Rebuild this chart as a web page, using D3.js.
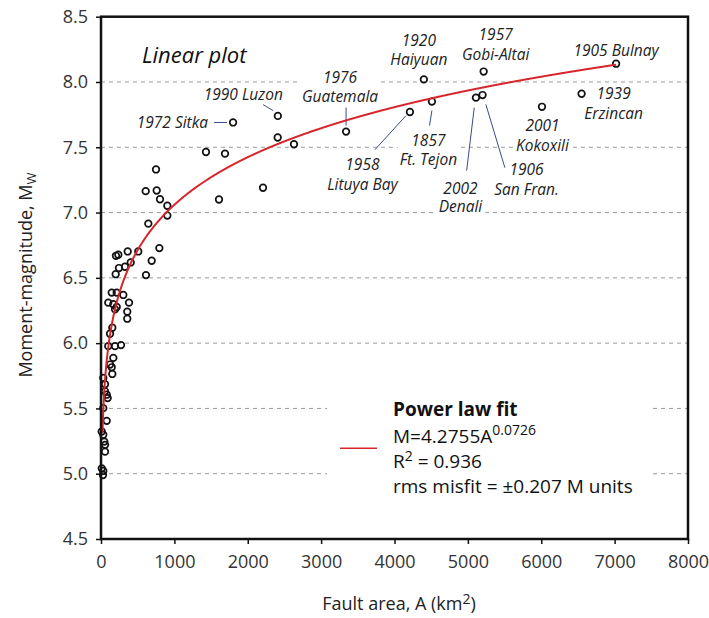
<!DOCTYPE html>
<html>
<head>
<meta charset="utf-8">
<script src="https://cdn.jsdelivr.net/npm/d3@7"></script>
<style>
  body { margin: 0; background: #fff; }
  svg { display: block; font-family: "Open Sans", sans-serif; }
</style>
</head>
<body>
<div id="chart"></div>
<script>
// axis ticks
const magTicks = [4.5, 5.0, 5.5, 6.0, 6.5, 7.0, 7.5, 8.0, 8.5];
const areaTicks = [0, 1000, 2000, 3000, 4000, 5000, 6000, 7000, 8000];
const gridMags = [5.0, 5.5, 6.0, 6.5, 7.0, 7.5, 8.0];

// named earthquakes
const eventYears = ["1972", "1990", "1976", "1958", "1920", "1857", "1957", "2002", "1906", "2001", "1939", "1905"];
const eventPlaces = ["Sitka", "Luzon", "Guatemala", "Lituya Bay", "Haiyuan", "Ft. Tejon", "Gobi-Altai", "Denali", "San Fran.", "Kokoxili", "Erzincan", "Bulnay"];
const eventArea = [1800, 2410, 3340, 4210, 4400, 4510, 5215, 5110, 5200, 6010, 6550, 7020];
const eventMw = [7.69, 7.74, 7.62, 7.77, 8.02, 7.85, 8.08, 7.88, 7.90, 7.81, 7.91, 8.14];

// the rest of the events
const otherArea = [2408, 2630, 1431, 1690, 2208, 1608, 750, 609, 759, 804, 904, 904, 645, 795, 691, 613,
  508, 364, 204, 236, 405, 327, 245, 200, 146, 214, 304, 99, 168, 191, 214, 382, 358, 358, 154, 123,
  99, 191, 273, 168, 123, 146, 154, 31, 55, 55, 78, 91, 31, 78, 10, 31, 45, 55, 55, 10, 31, 27];
const otherMw = [7.575, 7.523, 7.464, 7.451, 7.19, 7.10, 7.33, 7.164, 7.169, 7.102, 7.052, 6.977, 6.915, 6.728, 6.631, 6.521,
  6.702, 6.702, 6.669, 6.677, 6.618, 6.585, 6.575, 6.528, 6.387, 6.387, 6.369, 6.310, 6.298, 6.259, 6.277, 6.310, 6.241, 6.187, 6.118, 6.072,
  5.977, 5.977, 5.985, 5.887, 5.836, 5.815, 5.764, 5.733, 5.685, 5.631, 5.605, 5.579, 5.502, 5.405, 5.323, 5.298, 5.246, 5.221, 5.169, 5.041, 5.021, 4.990];

// power law fit, M = a * A^b
const fitCoef = 4.2755;
const fitExp = 0.0726;
const fitR2 = "0.936";
const fitRms = "0.207";
const fitRange = [20, 7020];

// where each event label sits relative to its point (px)
const labelLayout = [
  { dx: -25, dy: [6], anchor: "end", oneLine: true, lead: [-19, 0, -6, 0] },
  { dx: 5, dy: [-16], anchor: "end", oneLine: true, lead: [-14.7, -11.3, -4.7, -5.3] },
  { dx: -6, dy: [-49, -30], anchor: "middle", lead: [0, -24, 0, -6] },
  { dx: -47.5, dy: [57.7, 77.7], anchor: "middle", lead: [-35, 37.7, -4, 3.7] },
  { dx: -5, dy: [-33, -14], anchor: "middle" },
  { dx: -3.5, dy: [44.5, 63.5], anchor: "middle", lead: [0, 9, -2.4, 24] },
  { dx: 12, dy: [-31.7, -11.7], anchor: "middle" },
  { dx: -15.5, dy: [96, 114], anchor: "middle", lead: [-1.7, 10, -9.3, 73] },
  { dx: 44, dy: [80.3, 100.3], anchor: "middle", lead: [3.3, 9.3, 22.3, 72.6] },
  { dx: 0.5, dy: [24.7, 44.7], anchor: "middle" },
  { dx: 32, dy: [5.7, 25.7], anchor: "middle" },
  { dx: 0, dy: [-7.6], anchor: "middle", oneLine: true }
];

const W = 709, H = 618;
const margin = { top: 16.7, right: 21, bottom: 79, left: 101 };

const svg = d3.select("#chart").append("svg")
  .attr("width", W).attr("height", H);

const x = d3.scaleLinear().domain([0, 8000]).range([margin.left, W - margin.right]);
const y = d3.scaleLinear().domain([4.5, 8.5]).range([H - margin.bottom, margin.top]);

// gridlines
svg.append("g").selectAll("line").data(gridMags).join("line")
  .attr("x1", x(0)).attr("x2", x(8000))
  .attr("y1", d => y(d)).attr("y2", d => y(d))
  .attr("stroke", "#9a9a9a").attr("stroke-width", 1)
  .attr("stroke-dasharray", "4,4");

// legend background hides the grid
const legendG = svg.append("g");
legendG.append("rect")
  .attr("x", 327).attr("y", 393).attr("width", 326).attr("height", 112)
  .attr("fill", "#fff");

// label group sits under the points so white boxes don't hide them
let labG = svg.append("g").attr("font-style", "italic").attr("font-size", 15.5).attr("fill", "#222");

// points
let pts = otherArea.map((a, i) => ({ a: a, m: otherMw[i] }));
eventArea.forEach((a, i) => pts.push({ a: a, m: eventMw[i] }));

svg.append("g").selectAll("circle").data(pts).join("circle")
  .attr("cx", d => x(d.a)).attr("cy", d => y(d.m))
  .attr("r", 3.3)
  .attr("fill", "none")
  .attr("stroke", "#111").attr("stroke-width", 1.7);

// fit curve
let curve = d3.range(fitRange[0], fitRange[1], 5).concat([fitRange[1]])
  .map(a => [a, fitCoef * Math.pow(a, fitExp)]);
svg.append("path").datum(curve)
  .attr("d", d3.line().x(d => x(d[0])).y(d => y(d[1])))
  .attr("fill", "none").attr("stroke", "#d7262b").attr("stroke-width", 2);

// event labels
eventArea.forEach(function(a, i) {
  let L = labelLayout[i];
  let px = x(a), py = y(eventMw[i]);
  let lines = L.oneLine ? [eventYears[i] + " " + eventPlaces[i]] : [eventYears[i], eventPlaces[i]];
  let bg = labG.append("rect").attr("fill", "#fff");
  let txt = labG.append("text").attr("text-anchor", L.anchor);
  lines.forEach(function(t, j) {
    txt.append("tspan")
      .attr("x", px + L.dx).attr("y", py + L.dy[j])
      .text(t);
  });
  let b = txt.node().getBBox();
  bg.attr("x", b.x - 2).attr("y", b.y + 1).attr("width", b.width + 4).attr("height", b.height - 2);
  if (L.lead) {
    labG.append("line")
      .attr("x1", px + L.lead[0]).attr("y1", py + L.lead[1])
      .attr("x2", px + L.lead[2]).attr("y2", py + L.lead[3])
      .attr("stroke", "#3b4a8c").attr("stroke-width", 1);
  }
});

// title inside plot
svg.append("text")
  .attr("x", 142).attr("y", 62.5)
  .attr("font-size", 22).attr("font-style", "italic").attr("fill", "#111")
  .text("Linear plot");

// legend
legendG.append("line")
  .attr("x1", 340).attr("x2", 377).attr("y1", 448.3).attr("y2", 448.3)
  .attr("stroke", "#d7262b").attr("stroke-width", 1.5);
let lg = legendG.append("g").attr("font-size", 19).attr("fill", "#111");
lg.append("text").attr("x", 393).attr("y", 416).attr("font-weight", "bold").text("Power law fit");
let eq = lg.append("text").attr("x", 393).attr("y", 443);
eq.append("tspan").text("M=" + fitCoef + "A");
eq.append("tspan").attr("dy", -8).attr("font-size", 14).text(fitExp);
let r2 = lg.append("text").attr("x", 393).attr("y", 468.3);
r2.append("tspan").text("R");
r2.append("tspan").attr("dy", -7).attr("font-size", 14).text("2");
r2.append("tspan").attr("dy", 7).text(" = " + fitR2);
lg.append("text").attr("x", 393).attr("y", 493.3).text("rms misfit = \u00b1" + fitRms + " M units");

// frame
svg.append("rect")
  .attr("x", x(0)).attr("y", y(8.5))
  .attr("width", x(8000) - x(0)).attr("height", y(4.5) - y(8.5))
  .attr("fill", "none").attr("stroke", "#111").attr("stroke-width", 2.5);

// axes
let yAxis = d3.axisLeft(y).tickValues(magTicks).tickFormat(d3.format(".1f")).tickSize(5).tickPadding(8);
let gy = svg.append("g").attr("transform", "translate(" + x(0) + ",0)").call(yAxis);
let xAxis = d3.axisBottom(x).tickValues(areaTicks).tickFormat(d3.format("d")).tickSize(5).tickPadding(11);
let gx = svg.append("g").attr("transform", "translate(0," + y(4.5) + ")").call(xAxis);
[gx, gy].forEach(function(g) {
  g.select(".domain").remove();
  g.selectAll(".tick line").attr("stroke", "#111").attr("stroke-width", 1.5);
  g.selectAll(".tick text").attr("font-size", 18).attr("fill", "#333")
    .attr("font-family", "'Open Sans', sans-serif");
});

// axis titles
let xt = svg.append("text")
  .attr("x", 399).attr("y", 610)
  .attr("text-anchor", "middle").attr("font-size", 18).attr("fill", "#222");
xt.append("tspan").text("Fault area, A (km");
xt.append("tspan").attr("dy", -6).attr("font-size", 14).text("2");
xt.append("tspan").attr("dy", 6).text(")");

let yt = svg.append("text")
  .attr("transform", "translate(32,275) rotate(-90)")
  .attr("text-anchor", "middle").attr("font-size", 18).attr("fill", "#222");
yt.append("tspan").text("Moment-magnitude, M");
yt.append("tspan").attr("dy", 4).attr("font-size", 13).text("W");
</script>
</body>
</html>
